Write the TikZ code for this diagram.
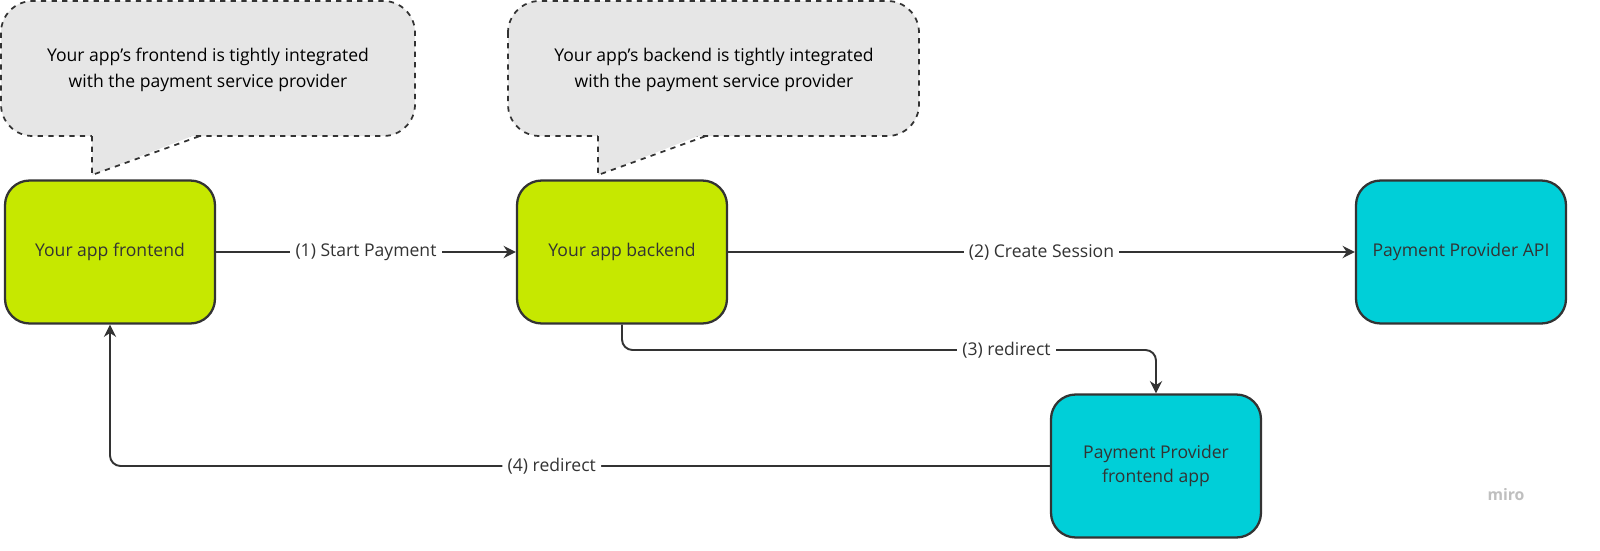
\documentclass[tikz,border=0pt]{standalone}
\usepackage{fontspec}
\setmainfont{Open Sans}
\usetikzlibrary{positioning,arrows.meta}
\definecolor{lime}{HTML}{C6E800}
\definecolor{teal}{HTML}{00CFD8}
\definecolor{bubble}{HTML}{E6E6E6}
\definecolor{ink}{HTML}{333333}
\tikzset{
  box/.style={draw=ink, line width=1.3pt, rounded corners=14pt, minimum width=4.2cm, minimum height=2.86cm, align=center, font=\fontsize{10}{14}\selectfont, text=ink},
  flow/.style={draw=ink, line width=1.1pt, -{Stealth[length=7pt,width=7pt]}},
  lbl/.style={fill=white, font=\fontsize{10}{12}\selectfont, text=ink, inner sep=3pt},
  note/.style={draw=ink, dashed, line width=1pt, fill=bubble}
}
\begin{document}
\begin{tikzpicture}[x=0.02cm, y=-0.02cm]
\useasboundingbox (0,0) rectangle (1600,551);
% callouts
\foreach \xa/\xb/\tx in {1/415/92, 508/919/598}{
  \draw[note, rounded corners=18pt] (\xa,1) rectangle (\xb,136);
  \fill[bubble] (\tx,133) -- (\tx,175) -- (\tx+108,133) -- cycle;
  \draw[note, fill=none] (\tx,136) -- (\tx,175) -- (\tx+108,136);
}
\node[align=center, font=\fontsize{10}{15}\selectfont, text=black] (note1) at (208,70) {Your app's frontend is tightly integrated\\with the payment service provider};
\node[align=center, font=\fontsize{10}{15}\selectfont, text=black] (note2) at (714,70) {Your app's backend is tightly integrated\\with the payment service provider};
% nodes
\node[box, fill=lime] (front) at (110,252) {Your app frontend};
\node[box, fill=lime] (back) at (622,252) {Your app backend};
\node[box, fill=teal] (api) at (1461,252) {Payment Provider API};
\node[box, fill=teal] (ppfront) at (1156,466) {Payment Provider\\frontend app};
% connectors
\draw[flow] (front) -- node[lbl] {(1) Start Payment} (back);
\draw[flow] (back) -- node[lbl] {(2) Create Session} (api);
\draw[flow, rounded corners=6pt] (back.south) -- (622,350) -- node[lbl, pos=0.72] {(3) redirect} (1156,350) -- (ppfront.north);
\draw[flow, rounded corners=6pt] (ppfront.west) -- node[lbl, pos=0.53] {(4) redirect} (110,466) -- (front.south);
\node[text=gray!50, font=\fontsize{9}{10}\selectfont\bfseries] (miro) at (1506,495) {miro};
\end{tikzpicture}
\end{document}
